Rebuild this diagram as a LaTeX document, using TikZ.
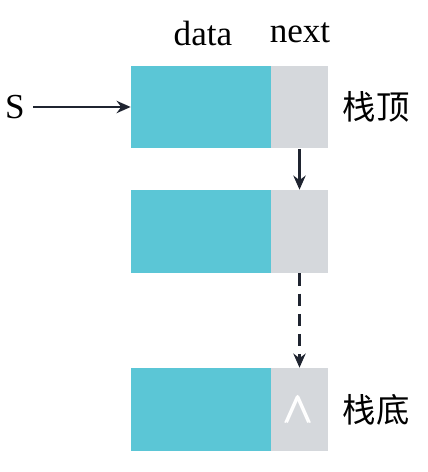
\documentclass[tikz,border=0pt]{standalone}
\usepackage{amsmath}
\usepackage{fontspec}
\setmainfont{Liberation Serif}
\newfontfamily\cjk{Noto Sans CJK SC}
\usetikzlibrary{arrows.meta}
\definecolor{datacyan}{HTML}{5BC6D6}
\definecolor{nextgrey}{HTML}{D5D8DC}
\definecolor{linkdark}{HTML}{1F2430}
\tikzset{
  datacell/.style={fill=datacyan, minimum width=2.8cm, minimum height=1.66cm, inner sep=0pt},
  nextcell/.style={fill=nextgrey, minimum width=1.14cm, minimum height=1.66cm, inner sep=0pt},
  link/.style={draw=linkdark, line width=1.6pt, -{Stealth[length=8pt,width=7pt]}},
  label/.style={font=\fontsize{20}{24}\selectfont}
}
\begin{document}
\begin{tikzpicture}[x=0.02cm,y=-0.02cm]
\useasboundingbox (0,0) rectangle (428,472);
% cells
\node[datacell] (data1) at (201,107) {};
\node[nextcell] (next1) at (299.5,107) {};
\node[datacell] (data2) at (201,231.5) {};
\node[nextcell] (next2) at (299.5,231.5) {};
\node[datacell] (data3) at (201,409.5) {};
\node[nextcell, text=white] (next3) at (299.5,409.5) {\fontsize{24}{28}\selectfont$\pmb{\wedge}$};
% labels
\node[label] (datahead) at (203,33) {data};
\node[label] (nexthead) at (300,33) {next};
\node[label] (s) at (15,107) {S};
\node[label, font=\cjk\fontsize{19}{23}\selectfont] (top) at (376,107) {栈顶};
\node[label, font=\cjk\fontsize{19}{23}\selectfont] (bottom) at (376,410) {栈底};
% links
\coordinate (sstart) at (33,107);
\draw[link] (sstart) -- (data1.west);
\draw[link] (next1.south) -- (next2.north);
\draw[link, dash pattern=on 7pt off 4.5pt] (next2.south) -- (next3.north);
\end{tikzpicture}
\end{document}
